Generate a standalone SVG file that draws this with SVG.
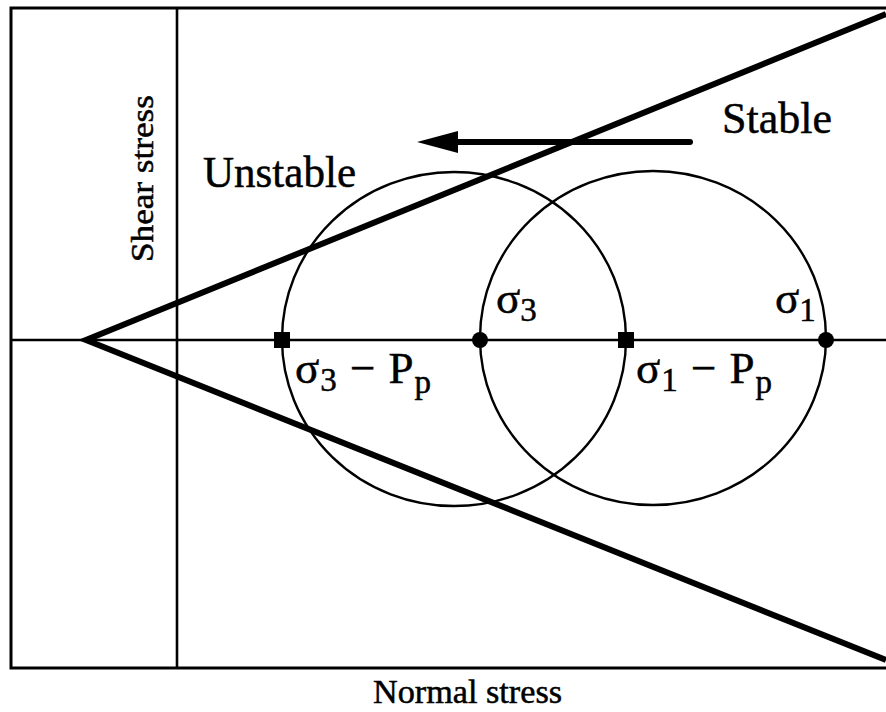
<svg xmlns="http://www.w3.org/2000/svg" width="886" height="712" viewBox="0 0 886 712">
<style>
.thin{fill:none;stroke:#000;stroke-width:2.4}
.frame{fill:none;stroke:#000;stroke-width:3}
.thick{fill:none;stroke:#000;stroke-width:6;stroke-linecap:butt}
.t{font-family:"Liberation Serif","Times New Roman",serif;fill:#000;stroke:#000;stroke-width:0.5}
.big{font-size:45px}
.sub{font-size:33px}
</style>
<rect width="886" height="712" fill="#fff"/>
<g id="frame">
<polyline class="frame" points="890,8 11,8 11,668 890,668"/>
<line class="thin" x1="177" y1="8" x2="177" y2="668" style="stroke-width:2.6"/>
<line class="thin" x1="11" y1="340" x2="886" y2="340"/>
</g>
<g id="envelope">
<polyline class="thick" points="886,14 86,340 886,660" style="stroke-linejoin:miter"/>
</g>
<g id="circles">
<ellipse class="thin" cx="454" cy="339" rx="172" ry="167"/>
<ellipse class="thin" cx="653" cy="338" rx="173" ry="167"/>
</g>
<g id="markers">
<rect x="274" y="332" width="16" height="16" fill="#000"/>
<rect x="618" y="332" width="16" height="16" fill="#000"/>
<circle cx="480" cy="340" r="8" fill="#000"/>
<circle cx="826" cy="340" r="8" fill="#000"/>
</g>
<g id="connectors">
<line x1="690" y1="142" x2="450" y2="142" stroke="#000" stroke-width="6" stroke-linecap="round"/>
<polygon points="417,142 458,131 458,153" fill="#000"/>
</g>
<g id="labels">
<text class="t big" x="722" y="133" textLength="110" lengthAdjust="spacingAndGlyphs">Stable</text>
<text class="t big" x="203" y="187" textLength="153" lengthAdjust="spacingAndGlyphs">Unstable</text>
<text class="t big" x="496" y="313">σ<tspan class="sub" dy="8">3</tspan></text>
<text class="t big" x="775" y="313">σ<tspan class="sub" dy="8">1</tspan></text>
<text class="t big" x="295" y="383" textLength="136" lengthAdjust="spacing">σ<tspan class="sub" dy="8">3</tspan><tspan dy="-8"> − P</tspan><tspan class="sub" dy="10">p</tspan></text>
<text class="t big" x="636" y="383" textLength="136" lengthAdjust="spacing">σ<tspan class="sub" dy="8">1</tspan><tspan dy="-8"> − P</tspan><tspan class="sub" dy="10">p</tspan></text>
<text class="t" font-size="33" x="373" y="703" textLength="189" lengthAdjust="spacingAndGlyphs">Normal stress</text>
<text class="t" font-size="31" transform="translate(153,262) rotate(-90)" x="0" y="0" textLength="167" lengthAdjust="spacingAndGlyphs">Shear stress</text>
</g>
</svg>
